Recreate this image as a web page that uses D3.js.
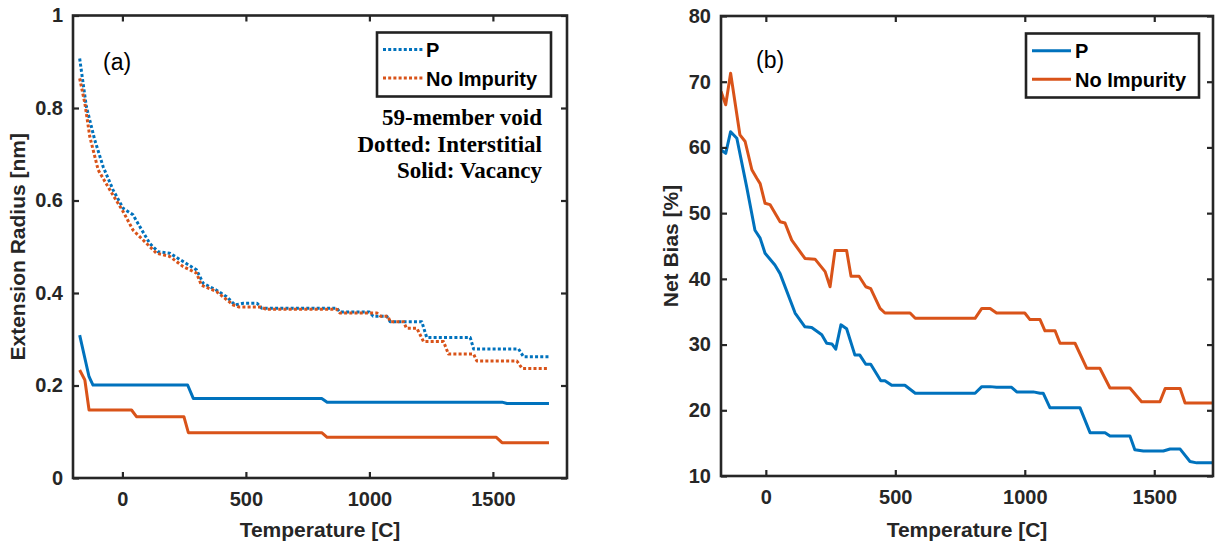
<!DOCTYPE html>
<html>
<head>
<meta charset="utf-8">
<script src="https://cdn.jsdelivr.net/npm/d3@7"></script>
<style>
  html, body { margin: 0; padding: 0; background: #fff; }
  svg { display: block; }
  text { font-family: "Liberation Sans", Arial, sans-serif; }
  text.note { font-family: "Liberation Serif", "Times New Roman", serif; }
</style>
</head>
<body>
<svg id="chart" width="1215" height="546"></svg>
<script>
// ---- Panel (a): extension radius vs temperature ----
const pIntT  = [-173,-146,-112,-78,-38,3,43,71,111,145,192,246,300,327,381,422,456,490,545,564,868,880,1000,1015,1070,1084,1212,1232,1408,1422,1604,1624,1727];
const pIntV  = [0.907,0.803,0.731,0.673,0.623,0.583,0.569,0.543,0.507,0.489,0.486,0.468,0.450,0.421,0.406,0.392,0.374,0.378,0.378,0.367,0.367,0.359,0.359,0.350,0.350,0.338,0.338,0.304,0.304,0.279,0.279,0.262,0.262];
const noneIntT = [-173,-152,-132,-98,-51,3,43,98,138,192,246,300,320,381,449,470,560,580,868,880,1030,1045,1075,1084,1138,1150,1192,1219,1300,1320,1422,1435,1597,1618,1727];
const noneIntV = [0.864,0.810,0.738,0.666,0.623,0.576,0.536,0.507,0.486,0.479,0.457,0.443,0.417,0.403,0.374,0.370,0.370,0.365,0.365,0.357,0.357,0.350,0.350,0.338,0.338,0.324,0.324,0.295,0.295,0.268,0.268,0.253,0.253,0.237,0.237];
const pVacT  = [-173,-135,-119,264,287,807,829,1537,1557,1727];
const pVacV  = [0.309,0.219,0.201,0.201,0.172,0.172,0.164,0.164,0.161,0.161];
const noneVacT = [-173,-152,-135,37,57,249,267,807,829,1514,1537,1727];
const noneVacV = [0.2335,0.212,0.147,0.147,0.1326,0.1326,0.098,0.098,0.088,0.088,0.0764,0.0764];

// ---- Panel (b): net bias vs temperature ----
const biasPT = [-173,-155,-136,-112,-74,-42,-22,-3,35,55,113,151,177,216,235,255,270,290,312,344,363,386,405,444,460,486,537,577,808,834,866,891,949,969,1033,1059,1071,1097,1213,1252,1310,1329,1406,1425,1458,1535,1561,1600,1638,1664,1727];
const biasPV = [59.6,59.1,62.4,61.4,54.0,47.4,46.2,43.9,42.1,40.8,34.8,32.7,32.6,31.5,30.2,30.1,29.3,33.0,32.4,28.4,28.4,27.0,27.0,24.5,24.5,23.8,23.8,22.6,22.6,23.6,23.6,23.5,23.5,22.8,22.8,22.6,22.6,20.4,20.4,16.6,16.6,16.1,16.1,14.0,13.8,13.8,14.1,14.1,12.2,12.0,12.0];
const biasNoneT = [-173,-155,-136,-100,-80,-54,-35,-22,-3,16,55,74,100,151,190,229,248,267,312,329,360,386,405,441,460,557,577,808,834,866,891,1000,1020,1059,1078,1117,1136,1194,1239,1290,1329,1406,1451,1522,1542,1600,1619,1727];
const biasNoneV = [68.5,66.5,71.3,61.9,60.9,56.6,55.3,54.5,51.5,51.3,48.7,48.5,45.9,43.1,43.0,41.1,38.8,44.3,44.3,40.4,40.4,38.8,38.5,35.5,34.8,34.8,34.0,34.0,35.5,35.5,34.8,34.8,33.8,33.8,32.1,32.1,30.2,30.2,26.4,26.4,23.4,23.4,21.3,21.3,23.3,23.3,21.1,21.1];

// Tick values and labels
const xTicks = [0, 500, 1000, 1500];
const yTicksA = [0, 0.2, 0.4, 0.6, 0.8, 1];
const yTickLabelsA = ["0", "0.2", "0.4", "0.6", "0.8", "1"];
const yTicksB = [10, 20, 30, 40, 50, 60, 70, 80];
const legendNames = ["P", "No Impurity"];
const noteLines = ["59-member void", "Dotted: Interstitial", "Solid: Vacancy"];

const BLUE = "#0072BD", ORANGE = "#D95319", INK = "#262626";
const zip = (t, v) => t.map((d, i) => [d, v[i]]);

const svg = d3.select("#chart");

function panel(cfg) {
  const g = svg.append("g");
  const x = d3.scaleLinear().domain(cfg.xDomain).range([cfg.left, cfg.right]);
  const y = d3.scaleLinear().domain(cfg.yDomain).range([cfg.bottom, cfg.top]);

  const clipId = "clip-" + cfg.id;
  svg.append("clipPath").attr("id", clipId)
    .append("rect").attr("x", cfg.left).attr("y", cfg.top)
    .attr("width", cfg.right - cfg.left).attr("height", cfg.bottom - cfg.top);

  const line = d3.line().x(d => x(d[0])).y(d => y(d[1]));
  const lines = g.append("g").attr("clip-path", `url(#${clipId})`);
  cfg.series.forEach(s => {
    lines.append("path").datum(s.data)
      .attr("d", line)
      .attr("fill", "none")
      .attr("stroke", s.color)
      .attr("stroke-width", 3)
      .attr("stroke-linejoin", "round")
      .attr("stroke-dasharray", s.dotted ? "3,2.2" : null);
  });

  const styleAxis = sel => {
    sel.select(".domain").remove();
    sel.selectAll(".tick line").attr("stroke", INK).attr("stroke-width", 2.2);
    sel.selectAll(".tick text")
      .attr("fill", INK).attr("font-size", 20).attr("font-weight", "bold");
  };

  g.append("g").attr("transform", `translate(0,${cfg.bottom})`)
    .call(d3.axisBottom(x).tickValues(xTicks).tickSize(-6).tickPadding(14).tickFormat(d3.format("d")))
    .call(styleAxis);
  g.append("g").attr("transform", `translate(0,${cfg.top})`)
    .call(d3.axisTop(x).tickValues(xTicks).tickSize(-6).tickFormat(""))
    .call(styleAxis);
  g.append("g").attr("transform", `translate(${cfg.left},0)`)
    .call(d3.axisLeft(y).tickValues(cfg.yTicks).tickSize(-6).tickPadding(10)
      .tickFormat((d, i) => cfg.yLabels ? cfg.yLabels[i] : d))
    .call(styleAxis);
  g.append("g").attr("transform", `translate(${cfg.right},0)`)
    .call(d3.axisRight(y).tickValues(cfg.yTicks).tickSize(-6).tickFormat(""))
    .call(styleAxis);

  g.append("rect")
    .attr("x", cfg.left).attr("y", cfg.top)
    .attr("width", cfg.right - cfg.left).attr("height", cfg.bottom - cfg.top)
    .attr("fill", "none").attr("stroke", INK).attr("stroke-width", 2.6);

  g.append("text")
    .attr("x", (cfg.left + cfg.right) / 2).attr("y", 537)
    .attr("text-anchor", "middle").attr("font-size", 21).attr("font-weight", "bold")
    .attr("fill", INK).text("Temperature [C]");
  g.append("text")
    .attr("transform", `translate(${cfg.yLabelX},${(cfg.top + cfg.bottom) / 2}) rotate(-90)`)
    .attr("text-anchor", "middle").attr("font-size", 21).attr("font-weight", "bold")
    .attr("fill", INK).text(cfg.yLabel);

  g.append("text")
    .attr("x", cfg.tagX).attr("y", cfg.tagY)
    .attr("font-size", 23).attr("fill", "#000").text(cfg.tag);

  // legend
  const L = cfg.legend;
  g.append("rect").attr("x", L.x).attr("y", L.y).attr("width", L.w).attr("height", L.h)
    .attr("fill", "#fff").attr("stroke", "#222").attr("stroke-width", 2.6);
  legendNames.forEach((name, i) => {
    const s = cfg.series[i];
    const ly = L.rowY[i];
    g.append("line")
      .attr("x1", L.x + L.lineX0).attr("x2", L.x + L.lineX1)
      .attr("y1", ly).attr("y2", ly)
      .attr("stroke", s.color).attr("stroke-width", 3)
      .attr("stroke-dasharray", s.dotted ? "3,2.2" : null);
    g.append("text")
      .attr("x", L.x + L.textX).attr("y", ly + 7.5)
      .attr("font-size", 20).attr("font-weight", "bold").attr("fill", "#000")
      .text(name);
  });
  return { g, x, y };
}

const A = panel({
  id: "a",
  left: 73, right: 567, top: 15.5, bottom: 478,
  xDomain: [-200, 1800], yDomain: [0, 1],
  yTicks: yTicksA, yLabels: yTickLabelsA,
  yLabel: "Extension Radius [nm]", yLabelX: 25,
  tag: "(a)", tagX: 103, tagY: 70,
  series: [
    { data: zip(pIntT, pIntV), color: BLUE, dotted: true },
    { data: zip(noneIntT, noneIntV), color: ORANGE, dotted: true },
    { data: zip(pVacT, pVacV), color: BLUE, dotted: false },
    { data: zip(noneVacT, noneVacV), color: ORANGE, dotted: false }
  ],
  legend: { x: 377, y: 32.5, w: 174, h: 64, rowY: [49.5, 78], lineX0: 6, lineX1: 46, textX: 49 }
});

// annotation block under the legend of panel (a)
A.g.selectAll("text.note").data(noteLines).enter().append("text")
  .attr("class", "note")
  .attr("x", 542).attr("y", (d, i) => 125 + i * 26.5)
  .attr("text-anchor", "end")
  .attr("font-size", 23).attr("font-weight", "bold").attr("fill", "#000")
  .text(d => d);

panel({
  id: "b",
  left: 721, right: 1213, top: 16, bottom: 476,
  xDomain: [-173.15, 1726.85], yDomain: [10, 80],
  yTicks: yTicksB, yLabels: null,
  yLabel: "Net Bias [%]", yLabelX: 678,
  tag: "(b)", tagX: 756, tagY: 68,
  series: [
    { data: zip(biasPT, biasPV), color: BLUE, dotted: false },
    { data: zip(biasNoneT, biasNoneV), color: ORANGE, dotted: false }
  ],
  legend: { x: 1026, y: 33.5, w: 173, h: 64, rowY: [50.7, 79.3], lineX0: 6, lineX1: 45, textX: 49 }
});
</script>
</body>
</html>
